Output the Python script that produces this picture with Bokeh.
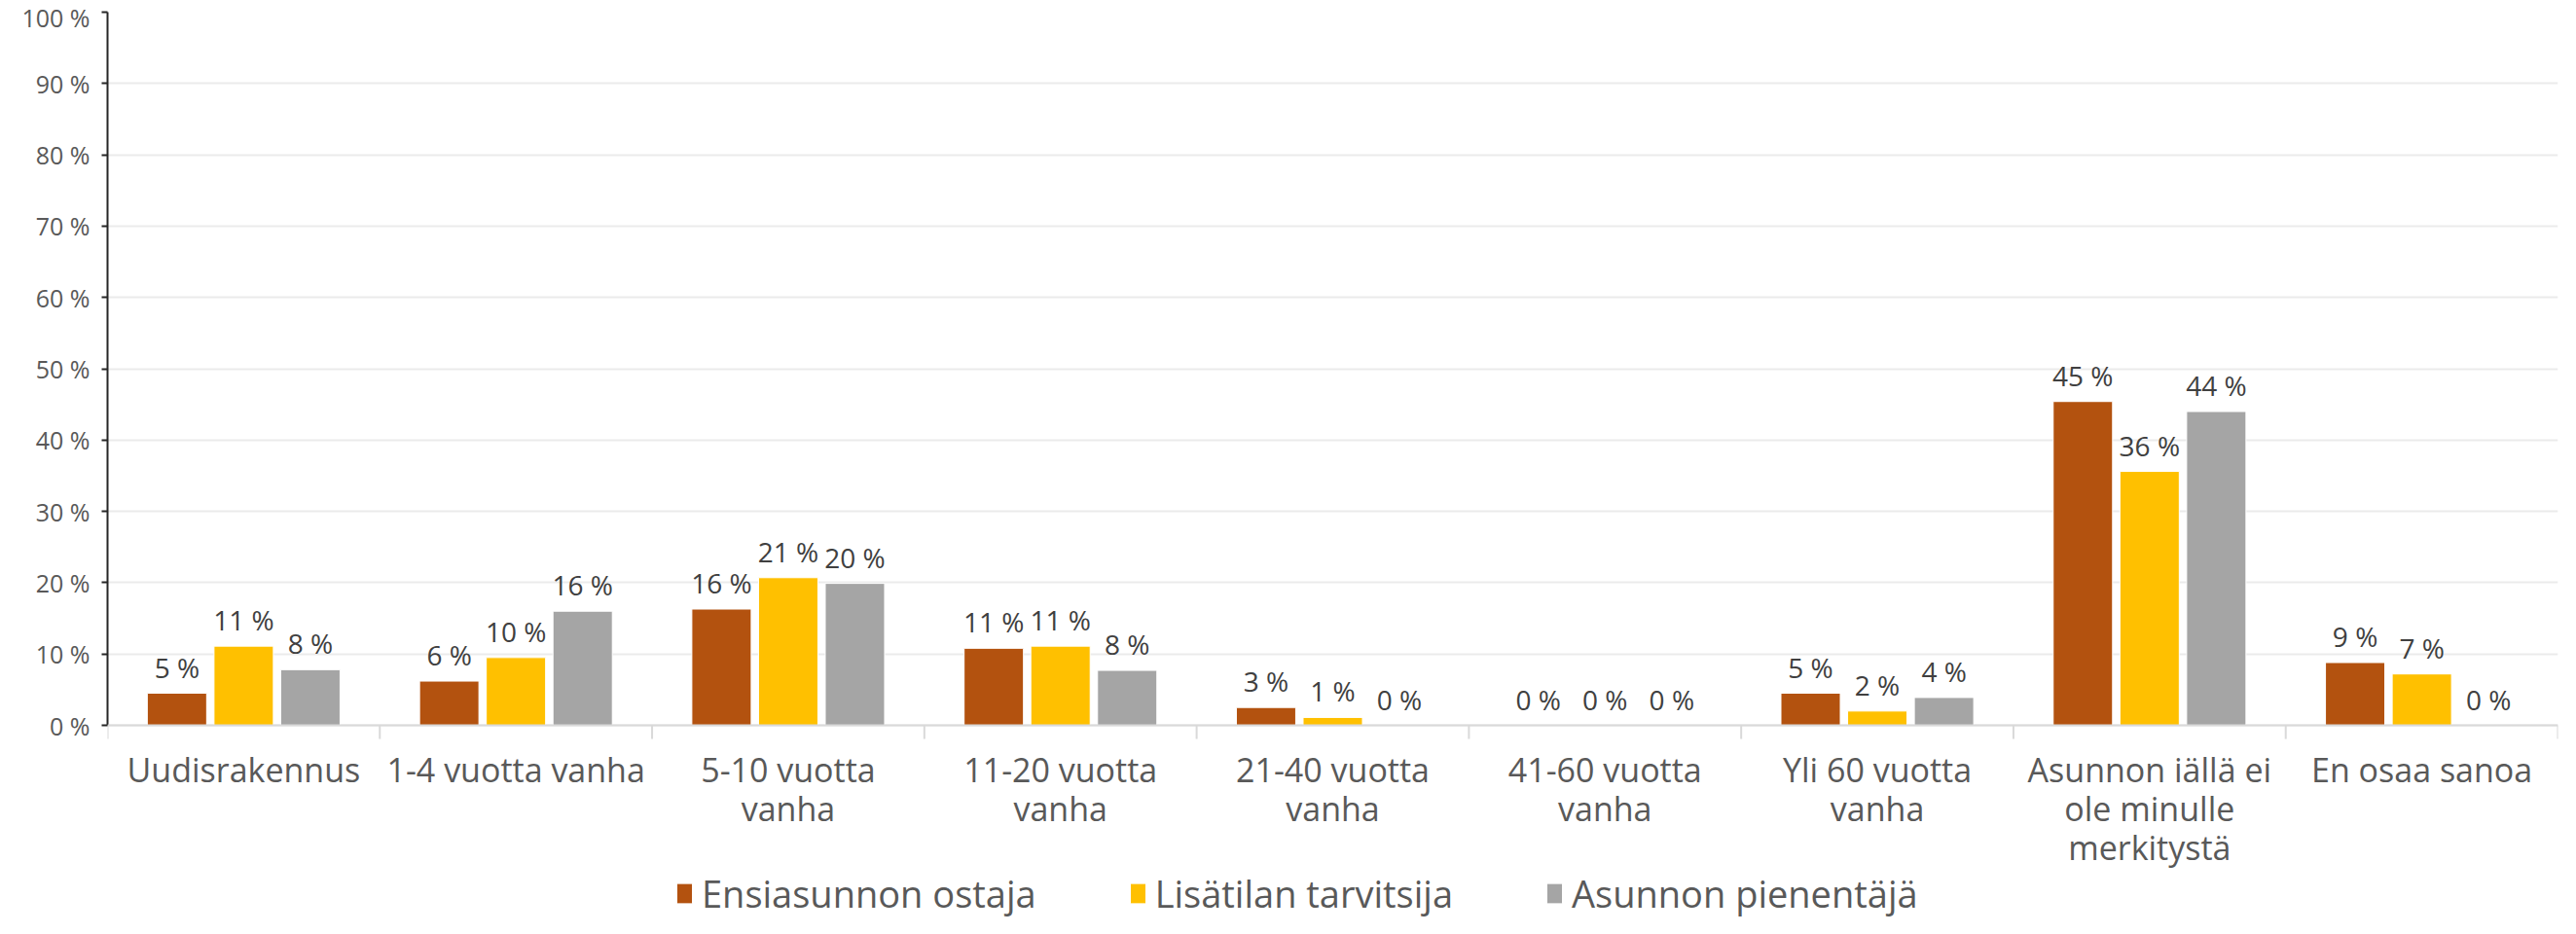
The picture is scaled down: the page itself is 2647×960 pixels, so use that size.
from bokeh.plotting import figure
from bokeh.models import (Range1d, FixedTicker, Legend, LegendItem, ColumnDataSource, Span)
from bokeh.core.properties import value
from bokeh.embed import file_html
from bokeh.resources import INLINE

categories = ["Uudisrakennus", "1-4 vuotta vanha", "5-10 vuotta\nvanha", "11-20 vuotta\nvanha",
              "21-40 vuotta\nvanha", "41-60 vuotta\nvanha", "Yli 60 vuotta\nvanha",
              "Asunnon iällä ei\nole minulle\nmerkitystä", "En osaa sanoa"]
series_names = ["Ensiasunnon ostaja", "Lisätilan tarvitsija", "Asunnon pienentäjä"]
ensiasunnon = [4.5, 6.2, 16.3, 10.8, 2.5, 0.0, 4.5, 45.4, 8.8]
lisatilan = [11.1, 9.5, 20.7, 11.1, 1.1, 0.0, 2.0, 35.6, 7.2]
pienentaja = [7.8, 16.0, 19.9, 7.7, 0.0, 0.0, 3.9, 44.0, 0.0]
colors = ["#B3520F", "#FFC000", "#A5A5A5"]
y_ticks = [0, 10, 20, 30, 40, 50, 60, 70, 80, 90, 100]
y_tick_labels = [f"{t} %" for t in y_ticks]

FONT = "Open Sans"
n = len(categories)
centers = list(range(n))
bounds = [i - 0.5 for i in range(n + 1)]

# layout in pixels: value axis 0..100 spans PLOT_H px, the frame extends below it
PLOT_H = 733
FRAME_H = 932
y_start = -100.0 * (FRAME_H - PLOT_H) / PLOT_H
tick_len = 14 * 100.0 / PLOT_H

p = figure(frame_width=2518, frame_height=FRAME_H, x_range=Range1d(-0.5, n - 0.5),
           y_range=Range1d(y_start, 100), output_backend="svg", toolbar_location=None,
           x_axis_location=None,
           min_border_left=110, min_border_right=3, min_border_top=12, min_border_bottom=0)
p.outline_line_color = None
p.xgrid.grid_line_color = None
p.ygrid.grid_line_color = "#EBEBEB"
p.ygrid.grid_line_width = 2
p.ygrid.ticker = FixedTicker(ticks=y_ticks)

yax = p.yaxis[0]
yax.ticker = FixedTicker(ticks=y_ticks)
yax.bounds = (0, 100)
yax.major_label_overrides = {t: l for t, l in zip(y_ticks, y_tick_labels)}
yax.axis_line_color = "#262626"
yax.axis_line_width = 2
yax.major_tick_line_color = "#262626"
yax.major_tick_line_width = 2
yax.major_tick_out = 6
yax.major_tick_in = 0
yax.minor_tick_line_color = None
yax.major_label_standoff = 12
yax.major_label_text_font = FONT
yax.major_label_text_font_size = "25px"
yax.major_label_text_color = "#595959"

# category axis: baseline, separators between categories, labels
p.add_layout(Span(location=0, dimension="width", line_color="#D9D9D9", line_width=2))
p.segment(x0=bounds, y0=[0] * len(bounds), x1=bounds, y1=[-tick_len] * len(bounds),
          line_color="#D9D9D9", line_width=2)
p.text(x=centers, y=[0] * n, text=categories, text_align="center", text_baseline="top",
       y_offset=22, text_font=value(FONT), text_font_size="34px", text_line_height=0.87,
       text_color="#595959")

bar_w = 0.218
offsets = [-0.245, 0.0, 0.245]
items = []
for name, vals, col, off in zip(series_names, [ensiasunnon, lisatilan, pienentaja], colors, offsets):
    src = ColumnDataSource(dict(x=[c + off for c in centers], top=vals,
                                lab=[f"{int(v + 0.5)} %" for v in vals]))
    r = p.vbar(x="x", top="top", bottom=0, width=bar_w, source=src, fill_color=col,
               line_color="white", line_width=1)
    p.text(x="x", y="top", text="lab", source=src, text_align="center", text_baseline="bottom",
           y_offset=-8, text_font=value(FONT), text_font_size="28px", text_color="#404040")
    items.append(LegendItem(label=name, renderers=[r]))

legend = Legend(items=items, orientation="horizontal", location=(583, 0),
                label_text_font=FONT, label_text_font_size="38px", label_text_color="#595959",
                glyph_width=20, glyph_height=26, label_standoff=8, spacing=94,
                padding=0, margin=0, border_line_color=None, background_fill_alpha=0)
p.add_layout(legend, "center")

open("out.html", "w").write(file_html(p, INLINE))
